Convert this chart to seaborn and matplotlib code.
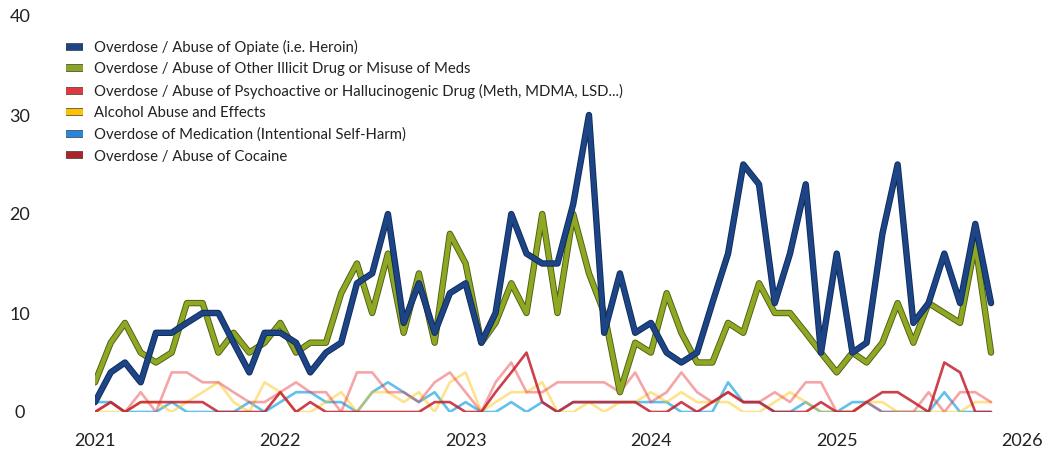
import pandas as pd
import matplotlib.pyplot as plt
import matplotlib.dates as mdates
import matplotlib.patheffects as pe
from matplotlib.lines import Line2D
import seaborn as sns

# monthly counts, Jan 2021 - Nov 2025
months = pd.date_range('2021-01-01', '2025-11-01', freq='MS')

opiate = [1, 4, 5, 3, 8, 8, 9, 10, 10, 7, 4, 8,
          8, 7, 4, 6, 7, 13, 14, 20, 9, 13, 8, 12,
          13, 7, 10, 20, 16, 15, 15, 21, 30, 8, 14, 8,
          9, 6, 5, 6, 11, 16, 25, 23, 11, 16, 23, 6,
          16, 6, 7, 18, 25, 9, 11, 16, 11, 19, 11]
other_illicit = [3, 7, 9, 6, 5, 6, 11, 11, 6, 8, 6, 7,
                 9, 6, 7, 7, 12, 15, 10, 16, 8, 14, 7, 18,
                 15, 7, 9, 13, 10, 20, 10, 20, 14, 10, 2, 7,
                 6, 12, 8, 5, 5, 9, 8, 13, 10, 10, 8, 6,
                 4, 6, 5, 7, 11, 7, 11, 10, 9, 17, 6]
psychoactive = [0, 1, 0, 2, 0, 4, 4, 3, 3, 2, 1, 1,
                2, 3, 2, 2, 0, 4, 4, 2, 2, 1, 3, 4,
                2, 0, 3, 5, 2, 2, 3, 3, 3, 3, 2, 4,
                1, 2, 4, 2, 1, 2, 1, 1, 2, 1, 3, 3,
                0, 0, 1, 0, 0, 0, 2, 0, 2, 2, 1]
alcohol = [0, 0, 0, 1, 1, 0, 1, 2, 3, 1, 0, 3,
           2, 0, 0, 1, 2, 0, 2, 2, 1, 2, 0, 3,
           4, 0, 1, 2, 2, 3, 0, 0, 1, 0, 1, 1,
           2, 1, 2, 1, 1, 1, 0, 0, 1, 2, 1, 0,
           0, 0, 1, 1, 0, 0, 0, 0, 0, 1, 1]
medication = [1, 1, 0, 0, 0, 1, 0, 0, 0, 0, 1, 0,
              1, 2, 2, 1, 1, 0, 2, 3, 2, 1, 2, 0,
              1, 0, 0, 1, 0, 1, 0, 1, 1, 1, 1, 1,
              1, 1, 0, 0, 0, 3, 1, 1, 0, 0, 1, 0,
              0, 1, 1, 0, 0, 0, 0, 2, 0, 0, 0]
cocaine = [0, 1, 0, 1, 1, 1, 1, 1, 0, 0, 0, 0,
           2, 0, 1, 0, 0, 0, 0, 0, 0, 0, 1, 1,
           0, 0, 2, 4, 6, 1, 0, 1, 1, 1, 1, 1,
           0, 0, 1, 0, 1, 2, 1, 1, 0, 0, 0, 1,
           0, 0, 1, 2, 2, 1, 0, 5, 4, 0, 0]

labels = ['Overdose / Abuse of Opiate (i.e. Heroin)',
          'Overdose / Abuse of Other Illicit Drug or Misuse of Meds',
          'Overdose / Abuse of Psychoactive or Hallucinogenic Drug (Meth, MDMA, LSD...)',
          'Alcohol Abuse and Effects',
          'Overdose of Medication (Intentional Self-Harm)',
          'Overdose / Abuse of Cocaine']
legend_colors = ['#1d4585', '#8aa425', '#e0383c', '#ffc000', '#2a86dc', '#a8262a']

sns.set_style('white')
plt.rcParams['font.family'] = ['Lato', 'DejaVu Sans']

fig = plt.figure(figsize=(10.43, 4.57), dpi=100)
ax = fig.add_axes([95 / 1043, 45 / 457, 927 / 1043, 396 / 457])

# faint minor series first
sns.lineplot(x=months, y=medication, ax=ax, color='#1fa6e6', alpha=0.7, lw=1.9)
sns.lineplot(x=months, y=alcohol, ax=ax, color='#ffc000', alpha=0.45, lw=1.9)
sns.lineplot(x=months, y=psychoactive, ax=ax, color='#e8383c', alpha=0.45, lw=1.9)
sns.lineplot(x=months, y=cocaine, ax=ax, color='#c41f2c', alpha=0.85, lw=1.9)

# main series with a darker outline
sns.lineplot(x=months, y=other_illicit, ax=ax, color='#8fa823', lw=3.3,
             path_effects=[pe.Stroke(linewidth=4.6, foreground='#4d5c14'), pe.Normal()])
sns.lineplot(x=months, y=opiate, ax=ax, color='#1d4585', lw=3.3,
             path_effects=[pe.Stroke(linewidth=4.6, foreground='#0e2a5c'), pe.Normal()])

ax.set_xlim(pd.Timestamp('2021-01-01'), pd.Timestamp('2026-01-01'))
ax.set_ylim(0, 40)
ax.set_yticks([0, 10, 20, 30, 40])
ax.xaxis.set_major_locator(mdates.YearLocator())
ax.xaxis.set_major_formatter(mdates.DateFormatter('%Y'))
ax.tick_params(axis='x', length=0, pad=15, labelsize=13, colors='#222222')
ax.tick_params(axis='y', length=0, pad=54, labelsize=13, colors='#222222')
for t in ax.get_yticklabels():
    t.set_ha('center')
ax.set_xlabel('')
ax.set_ylabel('')
sns.despine(ax=ax, left=True, bottom=True)

handles = [Line2D([0], [0], color=c, lw=4.5, solid_capstyle='butt',
                  path_effects=[pe.Stroke(linewidth=5.5, foreground='#3a3a3a',
                                          capstyle='butt'), pe.Normal()])
           for c in legend_colors]
fig.legend(handles, labels, loc='upper left', bbox_to_anchor=(66 / 1043, 1 - 40 / 457),
           frameon=False, fontsize=10.7, handlelength=1.15, handletextpad=0.75,
           labelspacing=0.5, borderpad=0, borderaxespad=0, labelcolor='#222222')

fig.savefig('out.png', dpi=100)
